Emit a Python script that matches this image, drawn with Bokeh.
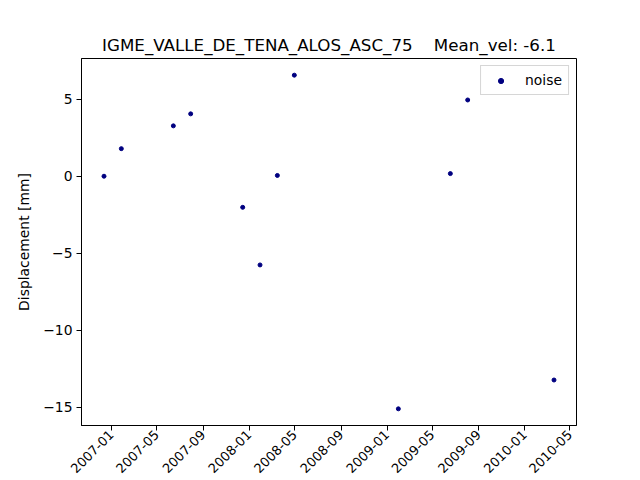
import math
import pandas as pd
from bokeh.plotting import figure
from bokeh.models import (ColumnDataSource, Range1d, FixedTicker, MonthsTicker,
                          DatetimeTickFormatter, Legend, LegendItem)
from bokeh.embed import file_html
from bokeh.resources import INLINE

# acquisition dates (ALOS, ~46 day repeat) and displacement in mm
dates = ["2006-12-12", "2007-01-27", "2007-06-14", "2007-07-30",
         "2007-12-15", "2008-01-30", "2008-03-16", "2008-04-30",
         "2009-01-31", "2009-06-18", "2009-08-03", "2010-03-20"]
displacement = [0.0, 1.79, 3.27, 4.05,
                -2.02, -5.76, 0.05, 6.56,
                -15.1, 0.17, 4.95, -13.23]

station = "IGME_VALLE_DE_TENA_ALOS_ASC_75"
mean_vel = -6.1
y_ticks = [-15, -10, -5, 0, 5]
y_tick_labels = ["\u221215", "\u221210", "\u22125", "0", "5"]

FONT = "DejaVu Sans"

df = pd.DataFrame(dict(date=pd.to_datetime(dates), disp=displacement))
source = ColumnDataSource(df)

# matplotlib-like 5% margins on both axes
x_min, x_max = df["date"].min(), df["date"].max()
x_pad = (x_max - x_min) * 0.05
y_min, y_max = df["disp"].min(), df["disp"].max()
y_pad = (y_max - y_min) * 0.05

p = figure(
    width=640, height=480,
    x_axis_type="datetime",
    x_range=Range1d(x_min - x_pad, x_max + x_pad),
    y_range=Range1d(y_min - y_pad, y_max + y_pad),
    min_border_left=81, min_border_right=64,
    min_border_top=58, min_border_bottom=54,
    output_backend="svg", toolbar_location=None,
)

p.title.text = f"{station}\u00a0\u00a0\u00a0\u00a0Mean_vel: {mean_vel}"
p.title.align = "center"
p.title.text_font = FONT
p.title.text_font_size = "16.7px"
p.title.text_font_style = "normal"
p.title.text_color = "black"
p.title.standoff = 8

r = p.scatter("date", "disp", source=source, size=4,
              color="navy", line_color="navy")

p.xgrid.visible = False
p.ygrid.visible = False
p.outline_line_color = "black"
p.outline_line_width = 1
p.background_fill_color = "white"
p.border_fill_color = "white"

for ax in (p.xaxis[0], p.yaxis[0]):
    ax.axis_line_color = "black"
    ax.major_tick_line_color = "black"
    ax.major_tick_out = 5
    ax.major_tick_in = 0
    ax.minor_tick_line_color = None
    ax.major_label_text_font = FONT
    ax.major_label_text_font_size = "13px"
    ax.major_label_text_color = "black"
    ax.major_label_standoff = 4

p.xaxis.ticker = MonthsTicker(months=[0, 4, 8])
p.xaxis.formatter = DatetimeTickFormatter(
    days="%Y-%m", months="%Y-%m", years="%Y-%m")
p.xaxis.major_label_orientation = math.pi / 4
p.xaxis.major_label_standoff = 2

p.yaxis.ticker = FixedTicker(ticks=y_ticks)
p.yaxis.major_label_overrides = dict(zip(y_ticks, y_tick_labels))
p.yaxis.major_label_text_font_size = "13.9px"
p.yaxis.axis_label = "Displacement [mm]"
p.yaxis.axis_label_text_font = FONT
p.yaxis.axis_label_text_font_size = "13.9px"
p.yaxis.axis_label_text_font_style = "normal"
p.yaxis.axis_label_text_color = "black"
p.yaxis.axis_label_standoff = 8

legend = Legend(items=[LegendItem(label="noise", renderers=[r])],
                location="top_right")
legend.margin = 7
legend.padding = 6
legend.glyph_width = 27
legend.glyph_height = 13
legend.label_standoff = 11
legend.label_text_font = FONT
legend.label_text_font_size = "13.9px"
legend.label_text_color = "black"
legend.border_line_color = "#cccccc"
legend.border_line_alpha = 0.8
legend.background_fill_alpha = 0.8
p.add_layout(legend)

open("out.html", "w").write(file_html(p, INLINE))
